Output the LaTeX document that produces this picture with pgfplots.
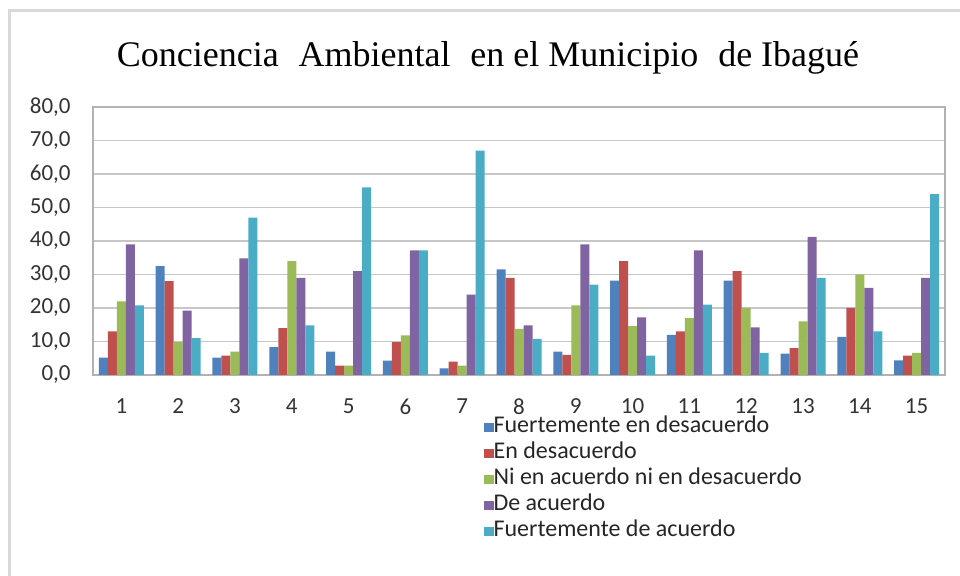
\documentclass[border=0pt]{standalone}
\usepackage{pgfplots}
\usepackage{pgfplotstable}
\pgfplotsset{compat=1.18}
\usepackage{fontspec}
\setmainfont{Carlito}
\newfontfamily\titlefont{Liberation Serif}
\definecolor{c1}{HTML}{4F81BD}
\definecolor{c2}{HTML}{C0504D}
\definecolor{c3}{HTML}{9BBB59}
\definecolor{c4}{HTML}{8064A2}
\definecolor{c5}{HTML}{4BACC6}
\pgfplotstableread{
q    fd    ed    ni    da    fa
1    5.2   13    22    39    20.8
2    32.5  28    9.8   19.2  11
3    5.2   5.8   7     34.8  47
4    8.3   14    34    29    14.8
5    7     2.8   2.8   31    56
6    4.3   9.8   11.8  37.2  37.2
7    2     4     2.8   24    67
8    31.5  29    13.8  14.8  10.8
9    7     6     20.8  39    27
10   28.2  34    14.6  17.2  5.8
11   12    13    17    37.2  21
12   28.2  31    20    14.2  6.6
13   6.4   8     16    41.2  29
14   11.4  20    30    26    13
15   4.4   5.8   6.6   29    54
}\datatable
\begin{document}
\begin{tikzpicture}[x=0.5pt,y=-0.5pt]
\path[use as bounding box] (0,0) rectangle (960,576);
\draw[line width=1.5pt, black!15] (9,576) -- (9,11) -- (960,11);
\node[font=\titlefont\fontsize{18}{20}\selectfont, anchor=center] at (488,58)
  {Conciencia\hspace{0.3em} Ambiental\hspace{0.3em} en el Municipio\hspace{0.3em} de Ibagué};
\coordinate (AO) at (93,375);
\begin{axis}[
  at={(AO)}, anchor=south west,
  scale only axis, width=426pt, height=134pt,
  ymin=0, ymax=80, ytick={0,10,...,80},
  xmin=0.5, xmax=15.5, xtick={1,...,15},
  ybar=0pt, bar width=4.5pt,
  ymajorgrids, grid style={black!22, line width=0.6pt},
  axis line style={black!30, line width=0.7pt},
  tick style={draw=none},
  font=\fontsize{11.5}{13}\selectfont,
  /pgf/number format/assume math mode=true,
  yticklabel style={/pgf/number format/fixed, /pgf/number format/fixed zerofill,
    /pgf/number format/precision=1, /pgf/number format/use comma},
  yticklabel style={anchor=east, inner sep=0pt, xshift=-11pt, text=black!80},
  xticklabel style={anchor=north, inner sep=0pt, yshift=-7.5pt, text=black!80},
  legend style={at={(192.5pt,-19.2pt)}, anchor=north west, draw=none, fill=none,
    font=\fontsize{12}{13}\selectfont,
    nodes={inner sep=0pt, text height=7.5pt, text depth=2.5pt, text=black!85},
    row sep=2.95pt},
  legend cell align=left,
  legend image code/.code={\fill[#1] (0pt,-2.3pt) rectangle (4.6pt,2.3pt);},
]
\addplot[fill=c1, draw=none] table[x=q, y=fd] {\datatable};
\addplot[fill=c2, draw=none] table[x=q, y=ed] {\datatable};
\addplot[fill=c3, draw=none] table[x=q, y=ni] {\datatable};
\addplot[fill=c4, draw=none] table[x=q, y=da] {\datatable};
\addplot[fill=c5, draw=none] table[x=q, y=fa] {\datatable};
\legend{Fuertemente en desacuerdo, En desacuerdo, Ni en acuerdo ni en desacuerdo, De acuerdo, Fuertemente de acuerdo}
\end{axis}
\end{tikzpicture}
\end{document}
